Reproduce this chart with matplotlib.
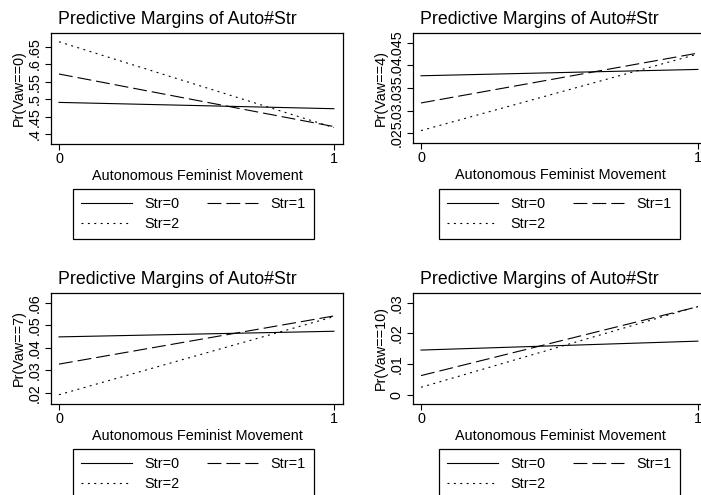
import numpy as np
import matplotlib
matplotlib.use('Agg')
from matplotlib import pyplot as plt

plt.rcParams['font.family'] = ['Liberation Sans', 'DejaVu Sans']
plt.rcParams['lines.scale_dashes'] = False

# predicted margins at Auto=0 and Auto=1, one list per Str level
auto = [0, 1]
str_labels = ['Str=0', 'Str=1', 'Str=2']

vaw0_str0 = [0.491, 0.473]
vaw0_str1 = [0.572, 0.422]
vaw0_str2 = [0.664, 0.419]

vaw4_str0 = [0.0377, 0.0391]
vaw4_str1 = [0.0317, 0.0427]
vaw4_str2 = [0.0256, 0.0425]

vaw7_str0 = [0.0448, 0.0473]
vaw7_str1 = [0.0327, 0.0541]
vaw7_str2 = [0.0191, 0.0538]

vaw10_str0 = [0.0146, 0.0175]
vaw10_str1 = [0.0063, 0.0287]
vaw10_str2 = [0.0025, 0.0288]

yticks_vaw0 = [0.4, 0.45, 0.5, 0.55, 0.6, 0.65]
ylabels_vaw0 = ['.4', '.45', '.5', '.55', '.6', '.65']
yticks_vaw4 = [0.025, 0.03, 0.035, 0.04, 0.045]
ylabels_vaw4 = ['.025', '.03', '.035', '.04', '.045']
yticks_vaw7 = [0.02, 0.03, 0.04, 0.05, 0.06]
ylabels_vaw7 = ['.02', '.03', '.04', '.05', '.06']
yticks_vaw10 = [0, 0.01, 0.02, 0.03]
ylabels_vaw10 = ['0', '.01', '.02', '.03']

W, H = 701, 495
DPI = 100
styles = [dict(ls='-'), dict(dashes=(10, 3.6)), dict(dashes=(1.4, 3.2))]


def px_axes(fig, left, top, right, bottom):
    '''Add axes given pixel box (origin top-left).'''
    return fig.add_axes([left / W, 1 - bottom / H, (right - left) / W, (bottom - top) / H])


def panel(fig, box, title_xy, leg_xy, ylim, series, yticks, ylabels, ylabel):
    ax = px_axes(fig, *box)
    lines = []
    for s, st in zip(series, styles):
        l, = ax.plot(auto, s, color='black', lw=0.8, **st)
        lines.append(l)
    ax.set_xlim(-0.029, 1.033)
    ax.set_ylim(*ylim)
    ax.set_xticks(auto)
    ax.set_xticklabels(['0', '1'])
    ax.set_yticks(yticks)
    ax.set_yticklabels(ylabels, rotation=90, va='center')
    ax.tick_params(direction='out', length=4, width=0.8, labelsize=10.4, color='black')
    ax.tick_params(axis='x', pad=1.5)
    ax.tick_params(axis='y', pad=3)
    for sp in ax.spines.values():
        sp.set_linewidth(0.9)
        sp.set_color('black')
    ax.set_xlabel('Autonomous Feminist Movement', fontsize=10.4, labelpad=2.5)
    ax.set_ylabel(ylabel, fontsize=10.4, labelpad=1)
    fig.text(title_xy[0] / W, 1 - title_xy[1] / H, 'Predictive Margins of Auto#Str',
             fontsize=12.8, ha='center', va='center')
    leg = fig.legend([lines[0], lines[2], lines[1]],
                     [str_labels[0], str_labels[2], str_labels[1]],
                     ncol=2, loc='upper left',
                     bbox_to_anchor=(leg_xy[0] / W, 1 - leg_xy[1] / H),
                     borderaxespad=0, fontsize=10.4, frameon=True, fancybox=False,
                     edgecolor='black', framealpha=1, handlelength=3.5,
                     handletextpad=0.9, columnspacing=1.9, borderpad=0.55,
                     labelspacing=0.45)
    leg.get_frame().set_linewidth(0.9)
    return ax


fig = plt.figure(figsize=(W / DPI, H / DPI), dpi=DPI)

panel(fig, (51, 33, 343, 144), (177, 20), (73, 189), (0.3723, 0.689),
      [vaw0_str0, vaw0_str1, vaw0_str2], yticks_vaw0, ylabels_vaw0, 'Pr(Vaw==0)')
panel(fig, (413, 33, 707, 143), (539, 20), (439, 189), (0.02286, 0.04714),
      [vaw4_str0, vaw4_str1, vaw4_str2], yticks_vaw4, ylabels_vaw4, 'Pr(Vaw==4)')
panel(fig, (51, 293, 343, 404), (177, 280), (73, 449), (0.01498, 0.0643),
      [vaw7_str0, vaw7_str1, vaw7_str2], yticks_vaw7, ylabels_vaw7, 'Pr(Vaw==7)')
panel(fig, (413, 293, 707, 404), (539, 280), (439, 449), (-0.00293, 0.03315),
      [vaw10_str0, vaw10_str1, vaw10_str2], yticks_vaw10, ylabels_vaw10, 'Pr(Vaw==10)')

fig.savefig('out.png', dpi=DPI, facecolor='white')
